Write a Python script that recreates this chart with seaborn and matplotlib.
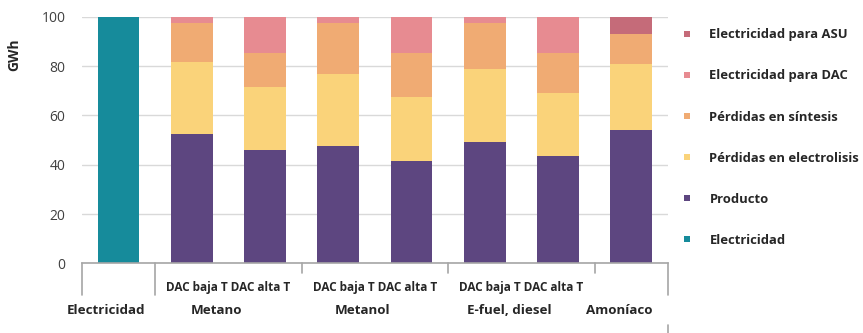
import pandas as pd
import matplotlib.pyplot as plt
import seaborn as sns
from matplotlib.lines import Line2D

# datos (GWh, barras apiladas hasta 100)
grupos = ["Electricidad", "Metano", "Metanol", "E-fuel, diesel", "Amoníaco"]
barras_por_grupo = [1, 2, 2, 2, 1]
sub_etiqueta = "DAC baja T DAC alta T"

capas = ["Electricidad para ASU", "Electricidad para DAC", "Pérdidas en síntesis",
         "Pérdidas en electrolisis", "Producto", "Electricidad"]
colores = ["#c56b79", "#e78b91", "#f0ab73", "#fad37a", "#5d4680", "#168b9b"]

electricidad = [100, 0, 0, 0, 0, 0, 0, 0]
producto = [0, 52.3, 46.0, 47.6, 41.6, 49.3, 43.5, 54.1]
electrolisis = [0, 29.2, 25.6, 29.2, 26.0, 29.4, 25.4, 26.7]
sintesis = [0, 15.8, 13.8, 20.5, 17.8, 18.6, 16.5, 12.2]
dac = [0, 2.7, 14.6, 2.7, 14.6, 2.7, 14.6, 0]
asu = [0, 0, 0, 0, 0, 0, 0, 7.0]

valores = dict(zip(capas, [asu, dac, sintesis, electrolisis, producto, electricidad]))

# tabla larga para seaborn
filas = []
for capa, serie in valores.items():
    for pos, v in enumerate(serie):
        filas.append({"pos": pos, "capa": capa, "GWh": v})
df = pd.DataFrame(filas)

sns.set_style("white")
plt.rcParams['font.family'] = ['Open Sans', 'DejaVu Sans']

fig = plt.figure(figsize=(8.63, 3.33), dpi=100)
ax = fig.add_axes([0.095, 0.209, 0.679, 0.741])

# histplot con pesos y multiple="stack" -> barras apiladas (primer nivel arriba)
sns.histplot(data=df, x="pos", weights="GWh", hue="capa", hue_order=capas,
             palette=colores, multiple="stack", discrete=True, shrink=0.57,
             linewidth=0, alpha=1, legend=False, ax=ax)

ax.set_xlim(-0.5, 7.5)
ax.set_ylim(0, 100)
ax.set_yticks([0, 20, 40, 60, 80, 100])
ax.tick_params(axis="y", length=0, pad=12, labelsize=10, labelcolor="#404040")
ax.set_xticks([])
ax.set_xlabel("")
ax.set_ylabel("")
ax.yaxis.grid(True, color="#d9d9d9", linewidth=1)
ax.set_axisbelow(True)
for s in ["left", "right", "top"]:
    ax.spines[s].set_visible(False)
ax.spines["bottom"].set_color("#a6a6a6")
ax.spines["bottom"].set_linewidth(1.2)

ax.text(-0.115, 0.845, "GWh", transform=ax.transAxes, rotation=90,
        ha="center", va="center", fontsize=10, fontweight="bold")

# etiquetas jerárquicas del eje x
tr = ax.get_xaxis_transform()
inicio = 0
for g, n in zip(grupos, barras_por_grupo):
    centro = inicio + (n - 1) / 2
    if n == 2:
        ax.text(centro, -0.096, sub_etiqueta, transform=tr, ha="center", va="center",
                fontsize=8.5, fontweight="bold")
    ax.text(centro - 0.17, -0.19, g, transform=tr, ha="center", va="center",
            fontsize=9.6, fontweight="bold")
    inicio += n

# separadores de grupo
largos = [-0.5, 0.5, 7.5]
cortos = [2.5, 4.5, 6.5]
for x in largos:
    ax.plot([x, x], [0, -0.129], transform=tr, color="#a6a6a6", lw=1.2, clip_on=False)
for x in cortos:
    ax.plot([x, x], [0, -0.04], transform=tr, color="#a6a6a6", lw=1.2, clip_on=False)
ax.plot([7.5, 7.5], [-0.25, -0.29], transform=tr, color="#a6a6a6", lw=1.2, clip_on=False)

# leyenda
handles = [Line2D([], [], marker="s", linestyle="none", markersize=5,
                  markerfacecolor=c, markeredgewidth=0) for c in colores]
ax.legend(handles, capas, loc="upper left", bbox_to_anchor=(1.005, 1.0),
          frameon=False, handlelength=0.6, handletextpad=1.45, labelspacing=2.15,
          prop={"weight": "bold", "size": 9.4})

fig.savefig("out.png", dpi=100)
